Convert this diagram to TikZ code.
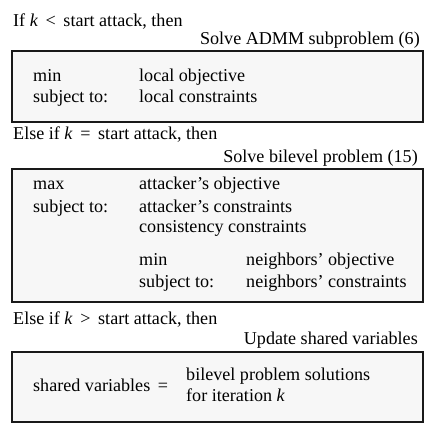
\documentclass[tikz,border=0pt]{standalone}
\usepackage{fontspec}
\setmainfont{Liberation Serif}
\newcommand{\relsp}[1]{\hspace{0.42em}#1\hspace{0.42em}}
\begin{document}
\begin{tikzpicture}[x=1pt,y=-1pt,
  txt/.style={inner sep=0pt, anchor=base west, font=\fontsize{18.1}{20}\selectfont},
  rtxt/.style={inner sep=0pt, anchor=base east, font=\fontsize{18.1}{20}\selectfont},
  panel/.style={draw=black!90, line width=2pt, fill=black!3}]
\useasboundingbox (0,0) rectangle (432,430);
% boxes
\draw[panel] (12,51) rectangle (423,122);
\draw[panel] (12,169) rectangle (423,302);
\draw[panel] (12,352) rectangle (423,422);
% section 1
\node[txt] (c1) at (13,27) {If \textit{k}\relsp{<}start attack, then};
\node[rtxt] (h1) at (420,45) {Solve ADMM subproblem (6)};
\node[txt] (a1) at (33,82) {min};
\node[txt] (a2) at (139,82) {local objective};
\node[txt] (a3) at (33,103) {subject to:};
\node[txt] (a4) at (139,103) {local constraints};
% section 2
\node[txt] (c2) at (13,140) {Else if \textit{k}\relsp{=}start attack, then};
\node[rtxt] (h2) at (418,163) {Solve bilevel problem (15)};
\node[txt] (b1) at (33,190) {max};
\node[txt] (b2) at (139,190) {attacker’s objective};
\node[txt] (b3) at (33,213) {subject to:};
\node[txt] (b4) at (139,213) {attacker’s constraints};
\node[txt] (b5) at (139,233) {consistency constraints};
\node[txt] (b6) at (139,266) {min};
\node[txt] (b7) at (246,266) {neighbors’ objective};
\node[txt] (b8) at (139,288) {subject to:};
\node[txt] (b9) at (246,288) {neighbors’ constraints};
% section 3
\node[txt] (c3) at (13,325) {Else if \textit{k}\relsp{>}start attack, then};
\node[rtxt] (h3) at (418,345) {Update shared variables};
\node[txt] (d1) at (33,392) {shared variables\relsp{=}};
\node[txt] (d2) at (186,381) {bilevel problem solutions};
\node[txt] (d3) at (186,402) {for iteration \textit{k}};
\end{tikzpicture}
\end{document}
